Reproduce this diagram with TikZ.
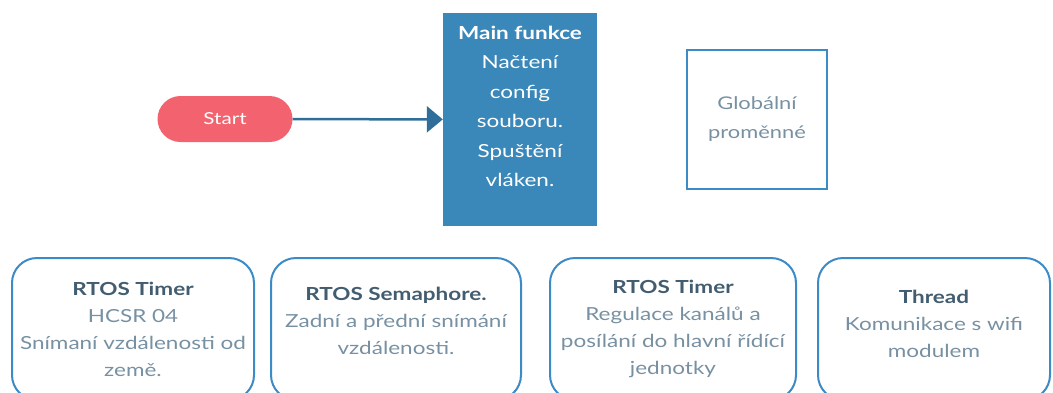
\documentclass[tikz,border=0pt]{standalone}
\usepackage{fontspec}
\setmainfont{Lato}[FakeStretch=1.25]
\usepackage{xcolor}
\usepackage{tikz}
\usetikzlibrary{arrows.meta}
\definecolor{startred}{HTML}{F2636F}
\definecolor{mainblue}{HTML}{3A87BA}
\definecolor{edge}{HTML}{3C8AC6}
\definecolor{arrowc}{HTML}{2F6E98}
\definecolor{title}{HTML}{435D70}
\definecolor{body}{HTML}{7790A2}
\tikzset{
  startnode/.style={fill=startred, rounded corners=23pt, minimum width=135pt, minimum height=46pt,
    text=white, font=\fontsize{16.5}{20}\selectfont},
  mainnode/.style={fill=mainblue, minimum width=154pt, minimum height=213pt, align=center,
    text=white, font=\fontsize{18}{29.5}\selectfont, text depth=26pt},
  globnode/.style={draw=edge, line width=2pt, minimum width=140pt, minimum height=139pt,
    align=center, text=body, font=\fontsize{17.5}{29}\selectfont},
  task/.style={draw=edge, line width=2pt, rounded corners=25pt, minimum height=142pt,
    align=center, text=body, font=\fontsize{18}{27}\selectfont},
  link/.style={draw=arrowc, line width=2.5pt, -{Triangle[length=16pt,width=26pt]}},
}
\newcommand{\ttl}[1]{{\bfseries\color{title}#1}}

\begin{document}
\begin{tikzpicture}[x=1pt, y=-1pt]
  \clip (0,0) rectangle (1053,392);
  \useasboundingbox (0,0) rectangle (1053,392);
  % top row
  \node[startnode] (start) at (225,119) {Start};
  \node[mainnode] (main) at (520,119.5) {\textbf{Main funkce}\\Načtení\\config\\souboru.\\Spuštění\\vláken.};
  \node[globnode] (glob) at (757,119) {Globální\\proměnné};
  \draw[link] (start) -- (main);
  % threads
  \node[task, minimum width=242pt] (t1) at (133,329) {\ttl{RTOS Timer}\\HCSR 04\\Snímaní vzdálenosti od\\země.};
  \node[task, minimum width=250pt, text depth=16pt] (t2) at (396,329) {\ttl{RTOS Semaphore.}\\Zadní a přední snímání\\vzdálenosti.};
  \node[task, minimum width=246pt] (t3) at (673,329) {\ttl{RTOS Timer}\\Regulace kanálů a\\posílání do hlavní řídící\\jednotky};
  \node[task, minimum width=232pt, text depth=10pt] (t4) at (934,329) {\ttl{Thread}\\Komunikace s wifi\\modulem};
\end{tikzpicture}
\end{document}
